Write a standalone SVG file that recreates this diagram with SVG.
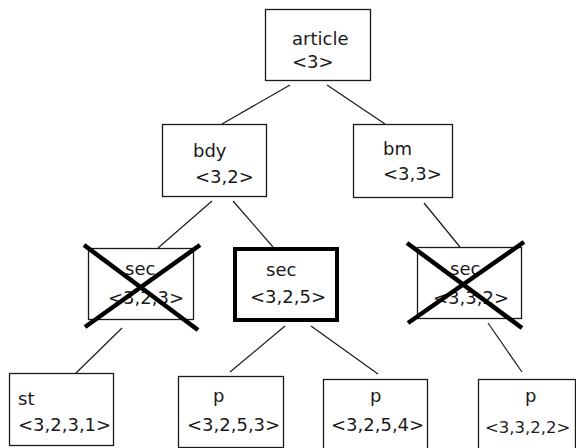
<svg xmlns="http://www.w3.org/2000/svg" width="576" height="448" viewBox="0 0 576 448">
<style>
.box{fill:#fff;stroke:#1a1a1a;stroke-width:1.3}
.bold{fill:#fff;stroke:#000;stroke-width:4}
.t{font-family:"DejaVu Sans",sans-serif;font-size:18px;fill:#1a1a1a}
.c{stroke:#1a1a1a;stroke-width:1.2;fill:none}
.x{stroke:#000;stroke-width:4.5;stroke-linecap:butt}
</style>
<rect width="576" height="448" fill="#fff"/>
<g id="connectors">
<line class="c" x1="290" y1="85" x2="222" y2="124"/>
<line class="c" x1="327" y1="85" x2="385" y2="124"/>
<line class="c" x1="212" y1="201" x2="158" y2="248"/>
<line class="c" x1="233" y1="201" x2="273" y2="247"/>
<line class="c" x1="424" y1="203" x2="460" y2="247"/>
<line class="c" x1="122" y1="328" x2="76" y2="373"/>
<line class="c" x1="285" y1="326" x2="230" y2="372"/>
<line class="c" x1="311" y1="326" x2="378" y2="374"/>
<line class="c" x1="488" y1="323" x2="522" y2="372"/>
</g>
<g id="article">
<rect class="box" x="265.5" y="9.5" width="105" height="71"/>
<text class="t" x="292" y="45">article</text>
<text class="t" x="292" y="68">&lt;3&gt;</text>
</g>
<g id="bdy">
<rect class="box" x="162.5" y="124.5" width="104" height="72"/>
<text class="t" x="193" y="157">bdy</text>
<text class="t" x="195" y="183">&lt;3,2&gt;</text>
</g>
<g id="bm">
<rect class="box" x="353.5" y="124.5" width="99" height="73"/>
<text class="t" x="383" y="155">bm</text>
<text class="t" x="383" y="180">&lt;3,3&gt;</text>
</g>
<g id="sec323">
<rect class="box" x="88.5" y="248.5" width="105" height="71"/>
<text class="t" x="125" y="275">sec</text>
<text class="t" x="108" y="304">&lt;3,2,3&gt;</text>
<line class="x" x1="84" y1="245" x2="198" y2="330"/>
<line class="x" x1="200" y1="245" x2="85" y2="327"/>
</g>
<g id="sec325">
<rect class="bold" x="235" y="249" width="102" height="71"/>
<text class="t" x="266" y="276">sec</text>
<text class="t" x="250" y="303">&lt;3,2,5&gt;</text>
</g>
<g id="sec332">
<rect class="box" x="417.5" y="247.5" width="104" height="71"/>
<text class="t" x="450" y="275">sec</text>
<text class="t" x="433" y="304">&lt;3,3,2&gt;</text>
<line class="x" x1="407" y1="243" x2="522" y2="328"/>
<line class="x" x1="524" y1="242" x2="408" y2="323"/>
</g>
<g id="st3231">
<rect class="box" x="9.5" y="373.5" width="104" height="72"/>
<text class="t" x="18" y="405">st</text>
<text class="t" x="18" y="431">&lt;3,2,3,1&gt;</text>
</g>
<g id="p3253">
<rect class="box" x="178.5" y="376.5" width="105" height="71"/>
<text class="t" x="213" y="402">p</text>
<text class="t" x="187" y="431">&lt;3,2,5,3&gt;</text>
</g>
<g id="p3254">
<rect class="box" x="323.5" y="379.5" width="104" height="72"/>
<text class="t" x="370" y="402">p</text>
<text class="t" x="331" y="431">&lt;3,2,5,4&gt;</text>
</g>
<g id="p3322">
<rect class="box" x="478.5" y="379.5" width="97" height="72"/>
<text class="t" x="485" y="433" style="font-size:16.5px">&lt;3,3,2,2&gt;</text>
<text class="t" x="525" y="402">p</text>
</g>
</svg>
